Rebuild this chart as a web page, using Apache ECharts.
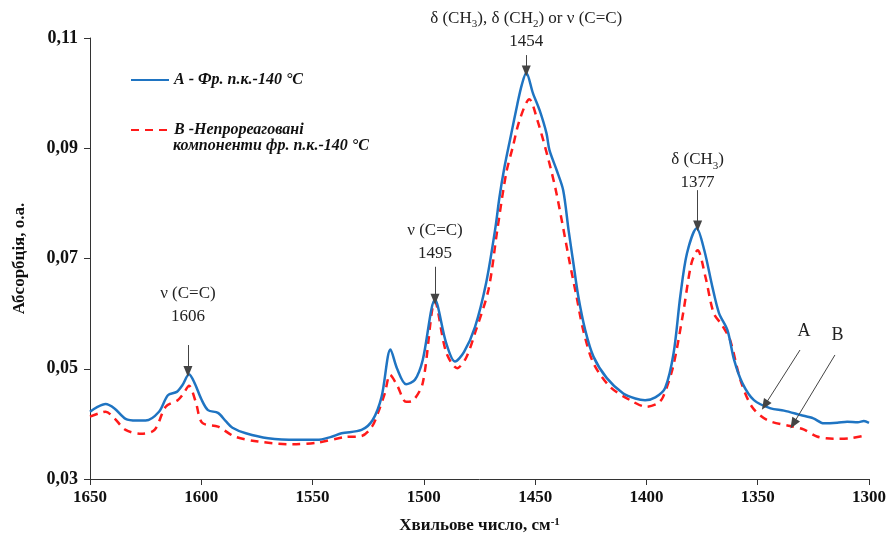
<!DOCTYPE html>
<html>
<head>
<meta charset="utf-8">
<script src="https://cdn.jsdelivr.net/npm/echarts@6/dist/echarts.min.js"></script>
<style>html,body{margin:0;padding:0;background:#fff}#c{width:892px;height:541px}</style>
</head>
<body>
<div id="c"></div>
<script>
// Series A: Фр. п.к.-140 °C
const waveA = [1650,1647,1643,1639,1634,1629,1625,1619,1615,1611,1608.5,1605.5,1603,1600,1597,1592.5,1589,1586,1580,1570,1557,1548,1542,1537,1528,1523,1519,1515,1512,1508,1504,1500.5,1495,1490,1486,1482,1477,1472,1468,1466,1464,1461,1458,1456,1454,1451,1448,1444.9,1443.6,1440.4,1437.4,1435,1432.8,1430.6,1427.5,1423.8,1417.8,1410.4,1405,1400.6,1396,1391.6,1387.8,1384.8,1381.8,1377.4,1374,1370.4,1367.4,1363.6,1360.6,1356.9,1351.7,1344.2,1338.2,1330.7,1325,1320.3,1314.3,1309.8,1305,1302.3,1300];
const absA  = [0.0422,0.0430,0.0436,0.0428,0.0409,0.0406,0.0406,0.0422,0.0452,0.0458,0.0470,0.0490,0.0474,0.0445,0.0425,0.0420,0.0405,0.0393,0.0383,0.0374,0.0371,0.0371,0.0376,0.0383,0.0389,0.0407,0.0449,0.0535,0.0500,0.0472,0.0480,0.0516,0.0625,0.0547,0.0513,0.0530,0.0576,0.0656,0.0752,0.0812,0.0861,0.0921,0.0980,0.1015,0.1037,0.1000,0.0969,0.0927,0.0897,0.0861,0.0824,0.0752,0.0691,0.0631,0.0570,0.0522,0.0483,0.0455,0.0446,0.0443,0.0448,0.0465,0.0528,0.0631,0.0709,0.0755,0.0715,0.0649,0.0601,0.0570,0.0516,0.0474,0.0443,0.0428,0.0424,0.0416,0.0410,0.0401,0.0402,0.0404,0.0403,0.0405,0.0402];
// Series B: Непрореаговані компоненти
const waveB = [1650,1646,1643,1639,1634,1627,1621,1616,1610.6,1608,1605.5,1602.5,1599.6,1592.5,1585,1574.5,1559,1548,1535.5,1528,1523.3,1520.6,1517.5,1515.2,1512,1508,1505,1500.5,1495,1490,1485,1481,1477,1471,1467,1463,1460,1457,1452.6,1449,1444,1440.4,1434.4,1431.4,1428.4,1423.8,1416.3,1407.3,1400,1395,1392.5,1388,1383.5,1379.8,1377,1373.5,1369.8,1366,1362.4,1357.8,1352.6,1345.8,1335.4,1329.4,1323.4,1316,1308.5,1302.5,1301.5];
const absB  = [0.0413,0.0419,0.0422,0.0410,0.0389,0.0382,0.0389,0.0431,0.0443,0.0455,0.0469,0.0440,0.0402,0.0395,0.0377,0.0368,0.0363,0.0366,0.0376,0.0378,0.0395,0.0420,0.0456,0.0489,0.0470,0.0440,0.0442,0.0474,0.0622,0.0530,0.0501,0.0520,0.0565,0.0643,0.0752,0.0855,0.0903,0.0951,0.0989,0.0951,0.0879,0.0818,0.0691,0.0631,0.0570,0.0510,0.0467,0.0443,0.0431,0.0437,0.0449,0.0504,0.0601,0.0691,0.0715,0.0667,0.0601,0.0579,0.0552,0.0480,0.0431,0.0407,0.0396,0.0390,0.0377,0.0373,0.0374,0.0378,0.0379];

const xTicks = [1650,1600,1550,1500,1450,1400,1350,1300];
const yTicks = [0.03,0.05,0.07,0.09,0.11];

const nameA = 'A - Фр. п.к.-140 °C';
const nameB = 'B -Непрореаговані';
const nameB2 = 'компоненти фр. п.к.-140 °C';

// peak annotations
const peakWave = [1606, 1495, 1454, 1377];
const peakText = ['ν (C=C)\n1606', 'ν (C=C)\n1495', 'δ (CH{s|3}), δ (CH{s|2}) or ν (C=C)\n1454', 'δ (CH{s|3})\n1377'];
const peakLabelY = [0.0616, 0.0729, 0.1115, 0.0858];
const peakArrowTop = [0.0543, 0.0685, 0.1069, 0.0824];
const peakArrowTip = [0.0495, 0.0626, 0.1040, 0.0759];

// curve labels A / B with arrows
const curveLbl = ['A', 'B'];
const curveLblPos = [[1329.2, 0.0568], [1314.1, 0.0561]];
const curveArrowFrom = [[1331, 0.0534], [1315.3, 0.0525]];
const curveArrowTo = [[1346.8, 0.0434], [1334, 0.0400]];

const serif = '"Liberation Serif", "Times New Roman", serif';
const pairs = (xs, ys) => xs.map((x, i) => [x, ys[i]]);

const chart = echarts.init(document.getElementById('c'));
const markLns = peakWave.map((w, i) => [{coord: [w, peakArrowTop[i]]}, {coord: [w, peakArrowTip[i]]}])
  .concat(curveLbl.map((t, i) => [{coord: curveArrowFrom[i]}, {coord: curveArrowTo[i]}]));

chart.setOption({
  animation: false,
  backgroundColor: '#fff',
  grid: {left: 90, right: 23, top: 38, bottom: 62},
  legend: {
    data: [nameA, nameB],
    orient: 'vertical', left: 130, top: 72, padding: 0, itemWidth: 38, itemHeight: 14, itemGap: 34,
    itemStyle: {opacity: 0},
    textStyle: {fontFamily: serif, fontWeight: 'bold', fontStyle: 'italic', fontSize: 16, color: '#111'}
  },
  xAxis: {
    type: 'value', inverse: true, min: 1300, max: 1650, interval: 50,
    axisLine: {lineStyle: {color: '#333', width: 1}},
    axisTick: {show: true, length: 6, lineStyle: {color: '#333'}},
    splitLine: {show: false},
    axisLabel: {fontFamily: serif, fontWeight: 'bold', fontSize: 17, color: '#111', margin: 10,
      formatter: v => String(v)},
    name: 'Хвильове число, см{sup|-1}', nameLocation: 'middle', nameGap: 38,
    nameTextStyle: {fontFamily: serif, fontWeight: 'bold', fontSize: 17, color: '#111',
      rich: {sup: {fontFamily: serif, fontWeight: 'bold', fontSize: 11, color: '#111', verticalAlign: 'top', lineHeight: 10}}}
  },
  yAxis: {
    type: 'value', min: 0.03, max: 0.11, interval: 0.02,
    axisLine: {show: true, lineStyle: {color: '#333', width: 1}},
    axisTick: {show: true, length: 6, lineStyle: {color: '#333'}},
    splitLine: {show: false},
    axisLabel: {fontFamily: serif, fontWeight: 'bold', fontSize: 18, color: '#111', margin: 12,
      formatter: v => v.toFixed(2).replace('.', ',')},
    name: 'Абсорбція, о.а.', nameLocation: 'middle', nameGap: 62,
    nameTextStyle: {fontFamily: serif, fontWeight: 'bold', fontSize: 17, color: '#111'}
  },
  series: [
    {
      name: nameB, type: 'line', data: pairs(waveB, absB), symbol: 'none', smooth: 0.3, z: 2,
      lineStyle: {color: '#ff1a1a', width: 2.5, type: [8, 6]}, itemStyle: {color: '#ff1a1a'}
    },
    {
      name: nameA, type: 'line', data: pairs(waveA, absA), symbol: 'none', smooth: 0.3, z: 3,
      lineStyle: {color: '#1f74c2', width: 2.5}, itemStyle: {color: '#1f74c2'},
      markLine: {
        silent: true, symbol: ['none', 'triangle'], symbolSize: [9, 11], precision: 5,
        lineStyle: {color: '#444', width: 1, type: 'solid'}, label: {show: false},
        itemStyle: {color: '#111'},
        data: markLns
      }
    }
  ]
});

// annotation texts placed at data coordinates
const toPx = c => chart.convertToPixel({gridIndex: 0}, c);
const richSub = {s: {fontFamily: serif, fontSize: 11, fill: '#222', verticalAlign: 'bottom', lineHeight: 12}};
const gfx = [{
  type: 'text', left: 173, top: 138,
  style: {text: nameB2, font: 'italic bold 16px ' + serif, fill: '#111'}
}];
peakWave.forEach((w, i) => {
  const p = toPx([w, peakLabelY[i]]);
  gfx.push({type: 'text', x: p[0], y: p[1], silent: true,
    style: {text: peakText[i], fontFamily: serif, fontSize: 17, fill: '#222', lineHeight: 23,
      align: 'center', verticalAlign: 'middle', rich: richSub}});
});
curveLbl.forEach((t, i) => {
  const p = toPx(curveLblPos[i]);
  gfx.push({type: 'text', x: p[0], y: p[1], silent: true,
    style: {text: t, fontFamily: serif, fontSize: 18, fill: '#222', align: 'center', verticalAlign: 'middle'}});
});
chart.setOption({graphic: gfx});
</script>
</body>
</html>
